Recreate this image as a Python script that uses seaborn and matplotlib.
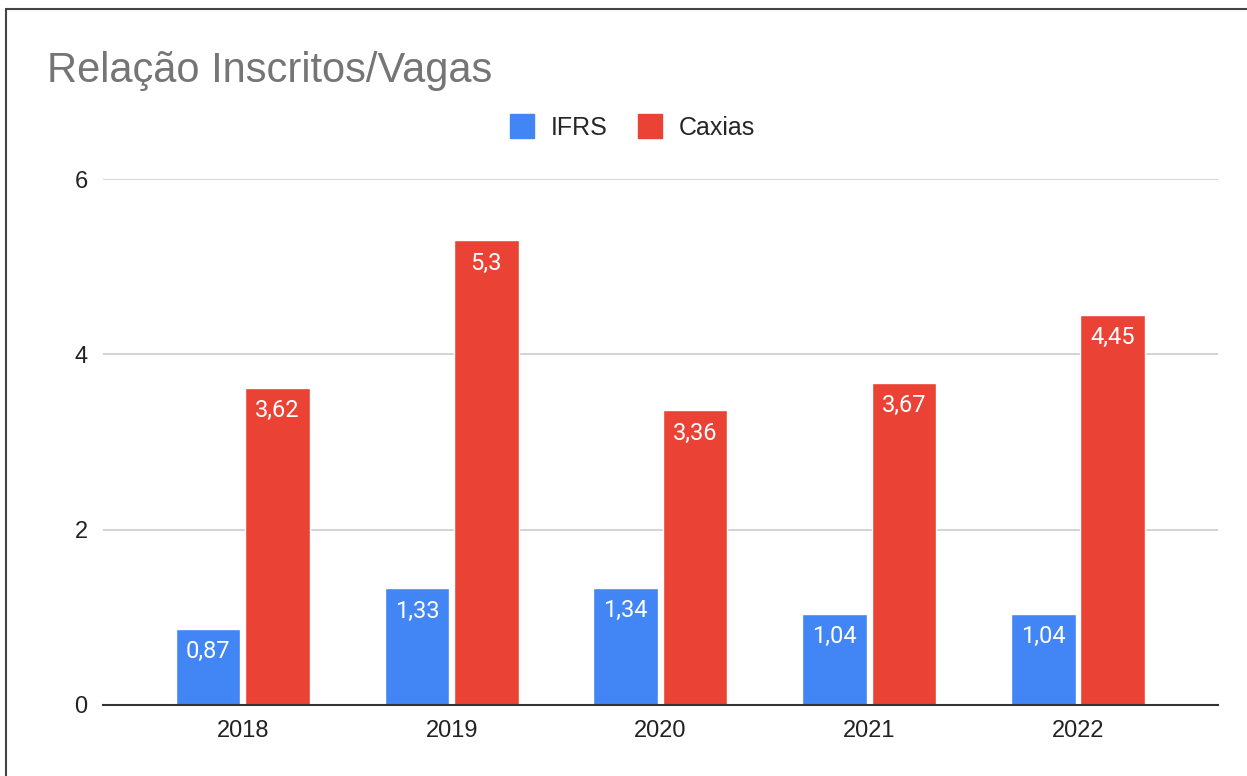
import matplotlib.pyplot as plt
import matplotlib.lines as mlines
import pandas as pd
import seaborn as sns

# Dados
anos = ['2018', '2019', '2020', '2021', '2022']
ifrs = [0.87, 1.33, 1.34, 1.04, 1.04]
caxias = [3.62, 5.3, 3.36, 3.67, 4.45]
series = ['IFRS', 'Caxias']
cores = ['#4285F4', '#EA4335']

df = pd.DataFrame({
    'ano': anos * 2,
    'valor': ifrs + caxias,
    'serie': [series[0]] * len(anos) + [series[1]] * len(anos),
})

sns.set_theme(style='white')
plt.rcParams['font.family'] = ['Liberation Sans', 'DejaVu Sans']

fig = plt.figure(figsize=(12.47, 7.76), dpi=100)
ax = fig.add_axes([0.0826, 0.0915, 0.894, 0.6778])

sns.barplot(data=df, x='ano', y='valor', hue='serie', palette=cores,
            width=0.665, gap=0.07, ax=ax, legend=False, saturation=1)

# rótulos dentro das barras, com vírgula decimal
for cont in ax.containers:
    for bar, v in zip(cont, cont.datavalues):
        ax.annotate(f'{v:g}'.replace('.', ','),
                    (bar.get_x() + bar.get_width() / 2, bar.get_height()),
                    xytext=(0, -8), textcoords='offset points',
                    ha='center', va='top', color='white', fontsize=17,
                    family=['Roboto', 'DejaVu Sans'])

ax.set_ylim(0, 6)
ax.set_xlim(-0.67, 4.67)
ax.set_yticks([0, 2, 4, 6])
ax.set_yticklabels(['0', '2', '4', '6'])
ax.yaxis.grid(True, color='#cccccc', linewidth=1.2)
ax.set_axisbelow(True)
ax.tick_params(axis='both', length=0, labelsize=17, labelcolor='#222222')
ax.tick_params(axis='y', pad=11)
ax.tick_params(axis='x', pad=11)
ax.set_xlabel('')
ax.set_ylabel('')
for s in ['top', 'right', 'left']:
    ax.spines[s].set_visible(False)
ax.spines['bottom'].set_color('#333333')
ax.spines['bottom'].set_linewidth(1.5)

fig.text(0.0377, 0.908, 'Relação Inscritos/Vagas', fontsize=30,
         color='#757575', va='center', ha='left')

handles = [mlines.Line2D([], [], marker='s', linestyle='', markersize=17,
                         color=c) for c in cores]
fig.legend(handles, series, loc='center', bbox_to_anchor=(0.506, 0.835),
           ncol=2, frameon=False, fontsize=18, handletextpad=0.55,
           columnspacing=1.1, handlelength=1.2)

# moldura da imagem (topo e esquerda)
fig.add_artist(mlines.Line2D([0.005, 1], [0.988, 0.988], color='#444444',
                             linewidth=1.5, transform=fig.transFigure))
fig.add_artist(mlines.Line2D([0.005, 0.005], [0, 0.988], color='#444444',
                             linewidth=1.5, transform=fig.transFigure))

fig.savefig('out.png', dpi=100)
